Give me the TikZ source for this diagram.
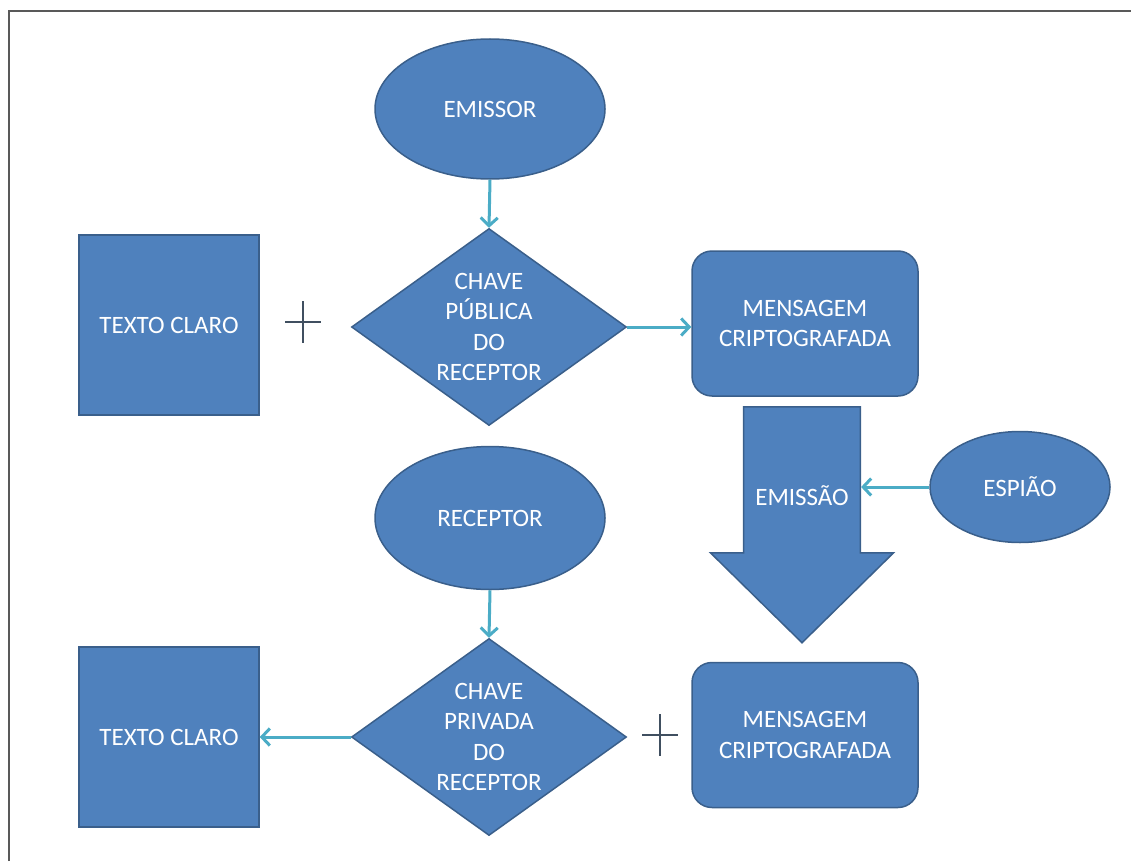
\documentclass[tikz,border=0pt]{standalone}
\usepackage{fontspec}
\setmainfont{Carlito}
\usetikzlibrary{shapes.geometric,shapes.arrows,arrows.meta,positioning}

\definecolor{caixa}{HTML}{4F81BD}
\definecolor{borda}{HTML}{3A5F8B}
\definecolor{seta}{HTML}{4BACC6}
\definecolor{sinalcor}{HTML}{404F60}

\tikzset{
  forma/.style={fill=caixa, draw=borda, line width=1.5pt, text=white,
    font=\fontsize{25}{30.5}\selectfont, align=center, inner sep=0pt},
  elipse/.style={forma, ellipse, minimum width=230pt, minimum height=140pt},
  losango/.style={forma, diamond, aspect=1.4, minimum width=275pt, minimum height=197pt},
  quadrado/.style={forma, rectangle, minimum width=180pt, minimum height=180pt},
  mensagem/.style={forma, rectangle, rounded corners=20pt, minimum width=226pt, minimum height=145pt},
  ligacao/.style={draw=seta, line width=3pt, -{Straight Barb[length=8pt,width=17pt]}},
  sinal/.style={minimum width=36pt, minimum height=42pt, inner sep=0pt,
    path picture={\draw[sinalcor, line width=2pt]
      (path picture bounding box.north) -- (path picture bounding box.south)
      (path picture bounding box.west) -- (path picture bounding box.east);}},
  moldura/.style={draw=black!65, line width=1.5pt}
}

\begin{document}
\begin{tikzpicture}[x=1pt,y=-1pt]
  \useasboundingbox (0,0) rectangle (1131,861);
  \draw[moldura] (9,861) -- (9,11) -- (1131,11);

  % cifragem
  \node[elipse] (emissor) at (490,109) {EMISSOR};
  \node[losango] (publica) at (489,327) {CHAVE\\PÚBLICA\\DO\\RECEPTOR};
  \node[quadrado] (claro1) at (169,325) {TEXTO CLARO};
  \node[sinal] (mais1) at (303,322) {};
  \node[mensagem] (cripto1) at (805,323.5) {MENSAGEM\\CRIPTOGRAFADA};

  \draw[ligacao] (emissor.south) -- (publica.north);
  \draw[ligacao] (publica.east) -- (publica.east -| cripto1.west);

  % emissao
  \node[forma, single arrow, shape border rotate=270, minimum height=236pt,
    minimum width=183pt, single arrow head extend=27pt, single arrow tip angle=91,
    single arrow head indent=0pt, anchor=tail] (emissao) at (802,406) {EMISSÃO};
  \node[elipse, minimum width=180pt, minimum height=111pt] (espiao) at (1020,487) {ESPIÃO};
  \draw[ligacao] (espiao.west) -- (espiao.west -| emissao.east);

  % decifragem
  \node[elipse, minimum height=143pt] (receptor) at (490,518) {RECEPTOR};
  \node[losango] (privada) at (489,737) {CHAVE\\PRIVADA\\DO\\RECEPTOR};
  \node[quadrado] (claro2) at (169,737) {TEXTO CLARO};
  \node[sinal] (mais2) at (660,735) {};
  \node[mensagem] (cripto2) at (805,735) {MENSAGEM\\CRIPTOGRAFADA};

  \draw[ligacao] (receptor.south) -- (privada.north);
  \draw[ligacao] (privada.west) -- (claro2.east);
\end{tikzpicture}
\end{document}
